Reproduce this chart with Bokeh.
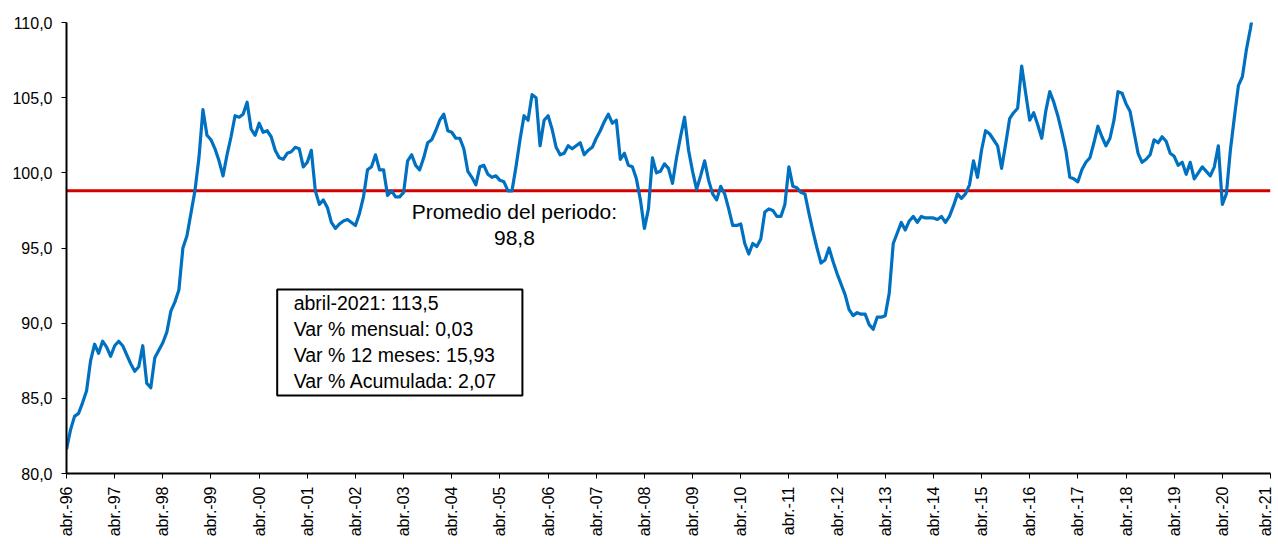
from bokeh.plotting import figure
from bokeh.models import Range1d, FixedTicker, Label, BoxAnnotation, ColumnDataSource
from bokeh.embed import file_html
from bokeh.resources import INLINE

# Monthly index values, April 1996 .. April 2021 (one row per year starting in April)
indice = [
    81.6, 82.9, 83.8, 84.0, 84.7, 85.5, 87.5, 88.6, 88.0, 88.8, 88.4, 87.8,
    88.5, 88.8, 88.5, 87.9, 87.3, 86.8, 87.1, 88.5, 86.0, 85.7, 87.7, 88.2,
    88.7, 89.4, 90.8, 91.4, 92.2, 95.0, 95.8, 97.3, 98.8, 101.0, 104.2, 102.5,
    102.2, 101.6, 100.8, 99.8, 101.2, 102.4, 103.8, 103.7, 103.9, 104.7, 102.9, 102.5,
    103.3, 102.7, 102.8, 102.4, 101.5, 101.0, 100.9, 101.3, 101.4, 101.7, 101.6, 100.4,
    100.7, 101.5, 98.8, 97.9, 98.2, 97.7, 96.7, 96.3, 96.6, 96.8, 96.9, 96.7,
    96.5, 97.3, 98.4, 100.2, 100.4, 101.2, 100.2, 100.2, 98.5, 98.8, 98.4, 98.4,
    98.7, 100.8, 101.2, 100.5, 100.2, 101.0, 102.0, 102.2, 102.8, 103.5, 103.9, 102.8,
    102.7, 102.3, 102.3, 101.6, 100.1, 99.7, 99.2, 100.4, 100.5, 99.9, 99.7, 99.8,
    99.5, 99.4, 98.8, 98.8, 100.4, 102.2, 103.8, 103.5, 105.2, 105.0, 101.8, 103.5,
    103.8, 102.9, 101.7, 101.2, 101.3, 101.8, 101.6, 101.8, 102.0, 101.2, 101.5, 101.7,
    102.3, 102.8, 103.4, 103.9, 103.3, 103.5, 100.9, 101.3, 100.5, 100.4, 99.6, 98.2,
    96.3, 97.6, 101.0, 100.0, 100.1, 100.6, 100.3, 99.3, 101.0, 102.4, 103.7, 101.5,
    100.1, 98.9, 99.8, 100.8, 99.5, 98.6, 98.2, 99.1, 98.6, 97.6, 96.5, 96.5,
    96.6, 95.3, 94.6, 95.3, 95.1, 95.6, 97.4, 97.6, 97.5, 97.1, 97.1, 97.9,
    100.4, 99.1, 99.0, 98.7, 98.6, 97.3, 96.1, 95.0, 94.0, 94.2, 95.0, 94.1,
    93.3, 92.6, 91.9, 90.9, 90.5, 90.7, 90.6, 90.6, 89.9, 89.6, 90.4, 90.4,
    90.5, 92.0, 95.3, 96.0, 96.7, 96.2, 96.8, 97.1, 96.7, 97.1, 97.0, 97.0,
    97.0, 96.9, 97.1, 96.7, 97.1, 97.8, 98.6, 98.3, 98.6, 99.2, 100.8, 99.7,
    101.5, 102.8, 102.6, 102.2, 101.8, 100.3, 101.9, 103.6, 104.0, 104.3, 107.1, 105.3,
    103.5, 104.0, 103.2, 102.3, 104.1, 105.4, 104.7, 103.8, 102.7, 101.5, 99.7, 99.6,
    99.4, 100.2, 100.7, 101.0, 102.0, 103.1, 102.4, 101.8, 102.3, 103.5, 105.4, 105.3,
    104.6, 104.1, 102.7, 101.3, 100.7, 100.9, 101.2, 102.2, 102.0, 102.4, 102.1, 101.3,
    101.1, 100.5, 100.7, 99.9, 100.7, 99.6, 100.0, 100.4, 100.1, 99.8, 100.4, 101.8,
    97.9, 98.6, 101.5, 103.7, 105.8, 106.4, 108.2, 109.6, 111.2, 112.2, 113.0, 113.47,
    113.5,
]
promedio = 98.8

tick_labels = ["abr.-96", "abr.-97", "abr.-98", "abr.-99", "abr.-00", "abr.-01", "abr.-02",
               "abr.-03", "abr.-04", "abr.-05", "abr.-06", "abr.-07", "abr.-08", "abr.-09",
               "abr.-10", "abr.-11", "abr.-12", "abr.-13", "abr.-14", "abr.-15", "abr.-16",
               "abr.-17", "abr.-18", "abr.-19", "abr.-20", "abr.-21"]
y_ticks = [80, 85, 90, 95, 100, 105, 110]
y_tick_labels = ["80,0", "85,0", "90,0", "95,0", "100,0", "105,0", "110,0"]

promedio_text = ["Promedio del periodo:", "98,8"]
box_text = ["abril-2021: 113,5", "Var % mensual: 0,03", "Var % 12 meses: 15,93",
            "Var % Acumulada: 2,07"]

meses = list(range(len(indice)))
src = ColumnDataSource(dict(x=meses, y=indice, avg=[promedio] * len(indice)))

FONT = "Liberation Sans"

p = figure(width=1274, height=540, output_backend="svg", toolbar_location=None,
           x_range=Range1d(0, len(indice) - 1), y_range=Range1d(80, 110),
           min_border_left=66, min_border_right=4, min_border_top=22, min_border_bottom=67)
p.outline_line_color = None
p.xgrid.visible = False
p.ygrid.visible = False
p.background_fill_color = "white"
p.border_fill_color = "white"

p.line("x", "avg", source=src, line_color="#D40000", line_width=3)
p.line("x", "y", source=src, line_color="#0070C0", line_width=3.2, line_join="round")

# Axes
p.xaxis.ticker = FixedTicker(ticks=[12 * i for i in range(len(tick_labels))])
p.xaxis.major_label_overrides = {12 * i: t for i, t in enumerate(tick_labels)}
p.xaxis.major_label_orientation = 1.5707963
p.yaxis.ticker = FixedTicker(ticks=y_ticks)
p.yaxis.major_label_overrides = {v: t for v, t in zip(y_ticks, y_tick_labels)}
for ax in (p.xaxis, p.yaxis):
    ax.axis_line_color = "black"
    ax.axis_line_width = 2
    ax.major_tick_line_color = "black"
    ax.major_tick_line_width = 1
    ax.major_tick_out = 5
    ax.major_tick_in = 0
    ax.minor_tick_line_color = None
    ax.major_label_text_font = FONT
    ax.major_label_text_font_size = "16px"
    ax.major_label_text_color = "black"
p.yaxis.major_label_standoff = 9
p.xaxis.major_label_standoff = 8

# Average annotation
p.add_layout(Label(x=111.6, y=97.40, text=promedio_text[0], text_align="center",
                   text_baseline="alphabetic", text_font=FONT, text_font_size="21px",
                   text_color="black"))
p.add_layout(Label(x=111.6, y=95.64, text=promedio_text[1], text_align="center",
                   text_baseline="alphabetic", text_font=FONT, text_font_size="21px",
                   text_color="black"))

# Info box
p.add_layout(BoxAnnotation(left=52.5, right=113.6, top=92.24, bottom=85.19,
                           fill_color="white", fill_alpha=1.0,
                           line_color="black", line_alpha=1.0, line_width=2))
for t, yb in zip(box_text, [91.36, 89.62, 87.87, 86.13]):
    p.add_layout(Label(x=56.6, y=yb, text=t, text_align="left", text_baseline="alphabetic",
                       text_font=FONT, text_font_size="19.5px", text_color="black"))

open("out.html", "w").write(file_html(p, INLINE))
